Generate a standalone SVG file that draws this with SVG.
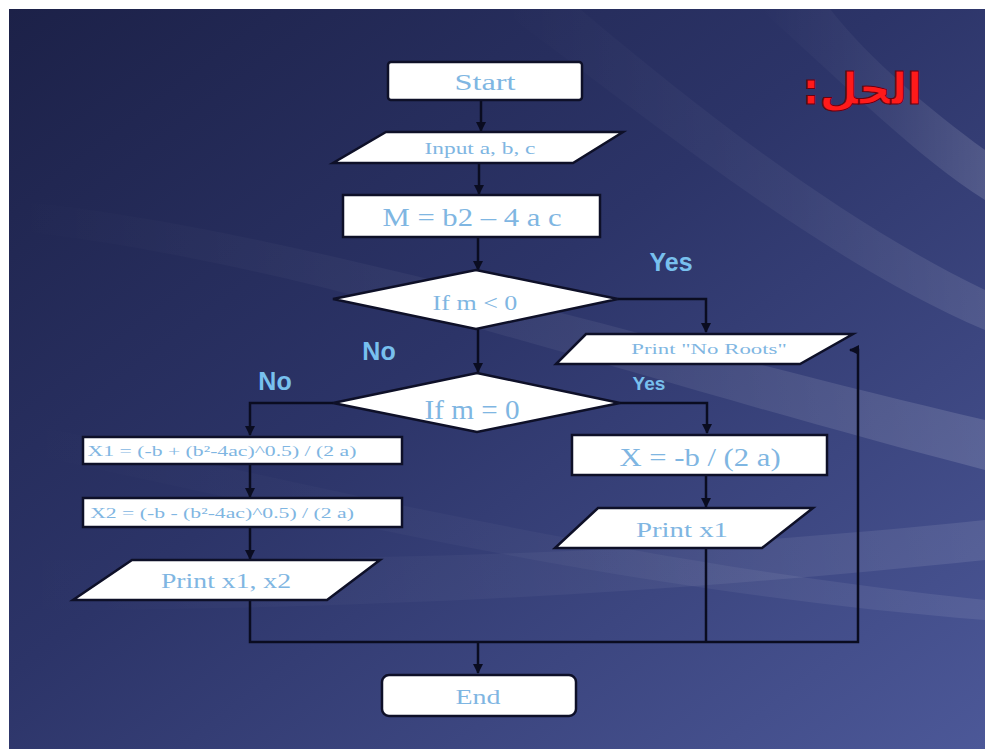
<svg xmlns="http://www.w3.org/2000/svg" width="985" height="749" viewBox="0 0 985 749">
<defs>
<linearGradient id="bg" x1="0" y1="0" x2="1" y2="1">
<stop offset="0" stop-color="#1c2148"/>
<stop offset="0.45" stop-color="#2c3468"/>
<stop offset="1" stop-color="#4c5898"/>
</linearGradient>
<linearGradient id="streak" x1="0" y1="0" x2="1" y2="0">
<stop offset="0" stop-color="#ffffff" stop-opacity="0"/>
<stop offset="0.6" stop-color="#ffffff" stop-opacity="0.06"/>
<stop offset="1" stop-color="#ffffff" stop-opacity="0.14"/>
</linearGradient>
<marker id="arr" viewBox="0 0 10 10" refX="9" refY="5" markerWidth="4" markerHeight="4" orient="auto">
<path d="M0,0 L10,5 L0,10 z" fill="#0a0c20"/>
</marker>
<style>
.box{fill:#ffffff;stroke:#0e1028;stroke-width:2.5}
.t{font-family:"Liberation Serif","Times New Roman",serif;fill:#7fb6e2;text-anchor:middle;dominant-baseline:central}
.lbl{font-family:"Liberation Sans",Arial,sans-serif;font-weight:bold;fill:#78c0ee}
.c{fill:none;stroke:#0a0c20;stroke-width:2.5}
</style>
</defs>
<rect x="0" y="0" width="985" height="749" fill="#ffffff"/>
<rect x="9" y="9" width="976" height="740" fill="url(#bg)"/>
<g id="background-streaks">
<path d="M9,200 C300,230 600,330 985,420 L985,470 C600,370 300,260 9,230 z" fill="url(#streak)"/>
<path d="M9,560 C300,560 600,560 985,520 L985,560 C600,600 300,610 9,610 z" fill="url(#streak)" opacity="0.7"/>
<path d="M500,9 C650,120 820,260 985,330 L985,290 C840,220 700,110 580,9 z" fill="url(#streak)" opacity="0.8"/>
<path d="M760,9 C840,80 920,160 985,200 L985,150 C930,110 870,60 830,9 z" fill="url(#streak)"/>
<path d="M9,420 C250,470 600,560 985,600 L985,620 C600,590 250,500 9,450 z" fill="url(#streak)" opacity="0.6"/>
</g>
<text x="862" y="88" font-family="'DejaVu Sans',sans-serif" font-size="44" font-weight="bold" fill="#ff1a1a" stroke="#6a0010" stroke-width="1" text-anchor="middle" dominant-baseline="central" direction="rtl">الحل:</text>
<g id="connectors">
<path class="c" d="M481,100 V131" marker-end="url(#arr)"/>
<path class="c" d="M479,163 V194" marker-end="url(#arr)"/>
<path class="c" d="M478,237 V270" marker-end="url(#arr)"/>
<path class="c" d="M618,299 H706 V332" marker-end="url(#arr)"/>
<path class="c" d="M478,329 V372" marker-end="url(#arr)"/>
<path class="c" d="M333,403 H250 V435" marker-end="url(#arr)"/>
<path class="c" d="M250,464 V497" marker-end="url(#arr)"/>
<path class="c" d="M250,527 V559" marker-end="url(#arr)"/>
<path class="c" d="M620,403 H707 V433" marker-end="url(#arr)"/>
<path class="c" d="M706,476 V507" marker-end="url(#arr)"/>
<path class="c" d="M250,600 V642 H858 V350 H850" marker-end="url(#arr)"/>
<path class="c" d="M706,548 V642"/>
<path class="c" d="M478,642 V673" marker-end="url(#arr)"/>
<text class="lbl" x="671" y="262" font-size="25" text-anchor="middle" dominant-baseline="central">Yes</text>
<text class="lbl" x="379" y="351" font-size="25" text-anchor="middle" dominant-baseline="central">No</text>
<text class="lbl" x="275" y="381" font-size="25" text-anchor="middle" dominant-baseline="central">No</text>
<text class="lbl" x="649" y="383" font-size="19" text-anchor="middle" dominant-baseline="central">Yes</text>
</g>
<g id="start"><rect class="box" x="388" y="62" width="194" height="38" rx="3"/><text class="t" transform="translate(485,82) scale(1.35,1)" font-size="24">Start</text></g>
<g id="input"><polygon class="box" points="386,132 623,132 573,163 333,163"/><text class="t" transform="translate(480,148) scale(1.46,1)" font-size="16">Input a, b, c</text></g>
<g id="compute-m"><rect class="box" x="343" y="195" width="257" height="42"/><text class="t" transform="translate(472,217) scale(1.18,1)" font-size="26">M = b2 – 4 a c</text></g>
<g id="if-neg"><polygon class="box" points="476,270 618,299 476,329 333,299"/><text class="t" transform="translate(475,303) scale(1.24,1)" font-size="21">If m &lt; 0</text></g>
<g id="print-noroots"><polygon class="box" points="586,334 853,334 800,364 556,364"/><text class="t" transform="translate(709,349) scale(1.63,1)" font-size="14">Print "No Roots"</text></g>
<g id="if-zero"><polygon class="box" points="477,373 620,403 477,432 333,403"/><text class="t" transform="translate(472,410) scale(1.08,1)" font-size="27">If m = 0</text></g>
<g id="x1"><rect class="box" x="83" y="437" width="319" height="27"/><text class="t" transform="translate(222,451) scale(1.55,1)" font-size="14">X1 = (-b + (b²-4ac)^0.5) / (2 a)</text></g>
<g id="x2"><rect class="box" x="83" y="498" width="319" height="29"/><text class="t" transform="translate(222,513) scale(1.55,1)" font-size="14">X2 = (-b - (b²-4ac)^0.5) / (2 a)</text></g>
<g id="print-x1x2"><polygon class="box" points="132,560 380,560 327,600 73,600"/><text class="t" transform="translate(226,581) scale(1.26,1)" font-size="22">Print x1, x2</text></g>
<g id="x-single"><rect class="box" x="572" y="435" width="255" height="40"/><text class="t" transform="translate(700,457) scale(1.18,1)" font-size="26">X = -b / (2 a)</text></g>
<g id="print-x1"><polygon class="box" points="598,508 813,508 762,548 555,548"/><text class="t" transform="translate(682,530) scale(1.31,1)" font-size="22">Print x1</text></g>
<g id="end"><rect class="box" x="382" y="675" width="194" height="41" rx="7"/><text class="t" transform="translate(478,697) scale(1.27,1)" font-size="22">End</text></g>
</svg>
